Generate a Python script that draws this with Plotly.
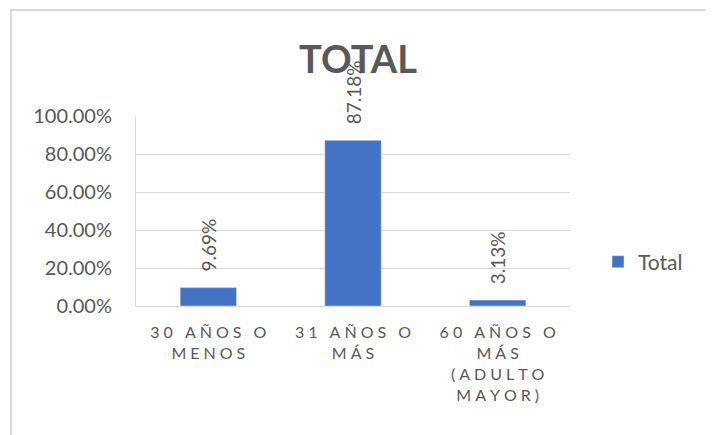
import plotly.graph_objects as go

categories = ["30 AÑOS O<br>MENOS", "31 AÑOS O<br>MÁS", "60 AÑOS O<br>MÁS<br>(ADULTO<br>MAYOR)"]
values = [0.0969, 0.8718, 0.0313]
series_name = "Total"
title_text = "TOTAL"

SP = "\u2005"
def spaced(s):
    lines = s.split("<br>")
    return "<br>".join(SP.join(list(line)) for line in lines)

tick_text = [spaced(c) for c in categories]
grey = "#595959"
font_family = "Lato, 'Open Sans', sans-serif"

fig = go.Figure()
fig.add_trace(go.Bar(
    x=categories, y=values, name=series_name,
    marker=dict(color="#4472c4"),
    width=0.39,
))
for c, v in zip(categories, values):
    fig.add_annotation(x=c, y=v, text=f"{v*100:.2f}%", textangle=-90,
                       showarrow=False, yanchor="bottom", yshift=14,
                       font=dict(size=19, color=grey, family=font_family))

# page has 8px body margin: shift everything up/left by 8
OFF = 8
W, H = 713, 435
L, R, T, B = 136 - OFF, 143 + OFF, 116 - OFF, 129 + OFF
pw, ph = W - L - R, H - T - B
fig.add_shape(type="rect", xref="paper", yref="paper",
              x0=(11 - OFF - L) / pw, x1=(706 - OFF - L) / pw,
              y0=(H - B - 460) / ph, y1=(H - B - (10 - OFF)) / ph,
              line=dict(color="#d9d9d9", width=2), layer="below")

fig.update_layout(
    width=W, height=H,
    margin=dict(l=L, r=R, t=T, b=B),
    paper_bgcolor="white", plot_bgcolor="white",
    font=dict(family=font_family, color=grey),
    title=dict(text=f"<b>{title_text}</b>", x=(358 - OFF) / W, xanchor="center",
               y=1 - (60 - OFF) / H, yanchor="middle", yref="container",
               font=dict(size=38, color=grey, family=font_family)),
    showlegend=True,
    legend=dict(x=(598 - L - OFF) / pw, y=(306 - 262) / ph, xanchor="left", yanchor="middle",
                font=dict(size=21, color=grey, family=font_family),
                bgcolor="rgba(0,0,0,0)"),
    bargap=0.61,
)
fig.update_xaxes(tickvals=categories, ticktext=tick_text, tickangle=0,
                 showline=True, linecolor="#d9d9d9", linewidth=1,
                 tickfont=dict(size=16, color=grey), ticklabelstandoff=12)
fig.update_yaxes(range=[0, 1], dtick=0.2, tickformat=".2%",
                 showgrid=True, gridcolor="#d9d9d9", gridwidth=1,
                 showline=True, linecolor="#d9d9d9", linewidth=1,
                 zeroline=False,
                 tickfont=dict(size=20, color=grey), ticklabelstandoff=19)

fig.write_html("out.html")
